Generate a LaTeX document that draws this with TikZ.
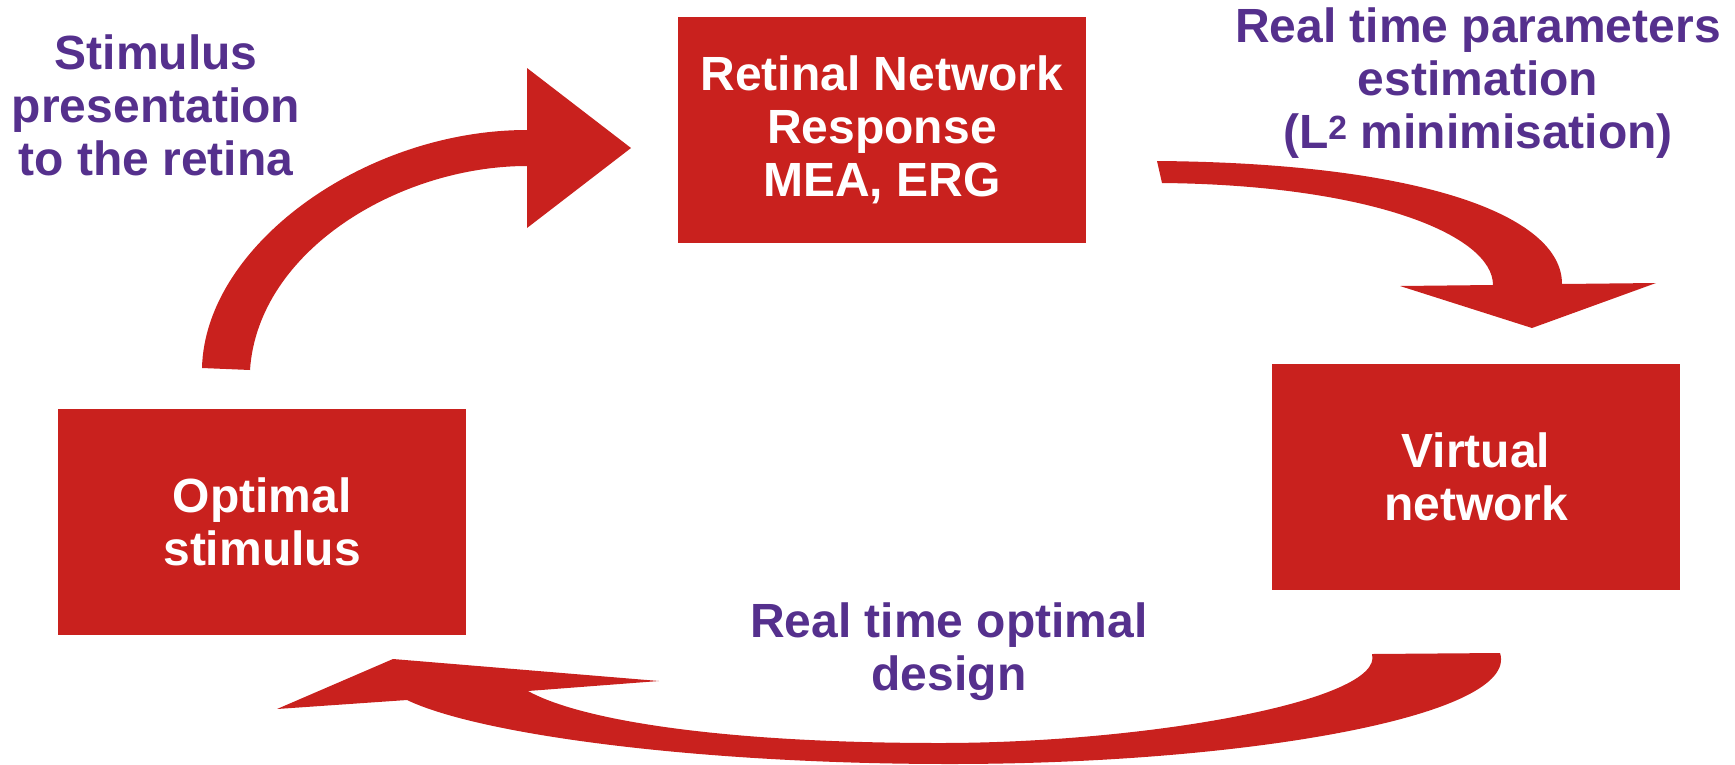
\documentclass[tikz,border=0pt]{standalone}
\usepackage{fontspec}
\setmainfont{Liberation Sans}
\usepackage{tikz}
\usetikzlibrary{positioning, calc}
\definecolor{boxred}{HTML}{C9211E}
\definecolor{labelpurple}{HTML}{55308D}

\begin{document}
\begin{tikzpicture}[x=1pt, y=-1pt,
    block/.style={fill=boxred, text=white, minimum width=408pt, minimum height=226pt,
        inner sep=0pt, align=center, font=\fontsize{48}{53}\selectfont\bfseries},
    steplabel/.style={text=labelpurple, align=center, inner sep=0pt,
        font=\fontsize{48}{53}\selectfont\bfseries}]
    \useasboundingbox (0,0) rectangle (1735,764);

    % Boxes of the loop
    \node[block] (retina) at (882,129.5) {Retinal Network\\Response\\MEA, ERG};
    \node[block] (virtual) at (1476,477) {Virtual\\network};
    \node[block] (optimal) at (262,522) {Optimal\\stimulus};

    % Step labels
    \node[steplabel] (stimlabel) at (156,105) {Stimulus\\presentation\\to the retina};
    \node[steplabel] (estlabel) at (1478,83) {Real time parameters\\estimation\\(L\textsuperscript{2} minimisation)};
    \node[steplabel] (designlabel) at (949,652) {Real time optimal\\design};

    % Presentation arrow (optimal -> retina)
    \fill[boxred] (202,368) .. controls (205,245) and (365,130) .. (527,130)
        -- (527,68) -- (631,148) -- (527,228) -- (527,166)
        .. controls (400,166) and (258,250) .. (250,370) -- cycle;

    % Estimation arrow (retina -> virtual)
    \fill[boxred] (1157,161) .. controls (1420,163) and (1562,215) .. (1562,284)
        -- (1656,283) -- (1532,328) -- (1400,286) -- (1493,285)
        .. controls (1493,235) and (1370,185) .. (1162,183) -- cycle;

    % Design arrow (virtual -> optimal)
    \fill[boxred] (1500,653) .. controls (1520,715) and (1250,764) .. (950,764)
        .. controls (700,764) and (480,735) .. (407,700)
        -- (277,709) -- (393,659) -- (659,681) -- (528,691)
        .. controls (580,720) and (720,743) .. (940,743)
        .. controls (1150,743) and (1385,700) .. (1372,654) -- cycle;
\end{tikzpicture}
\end{document}
